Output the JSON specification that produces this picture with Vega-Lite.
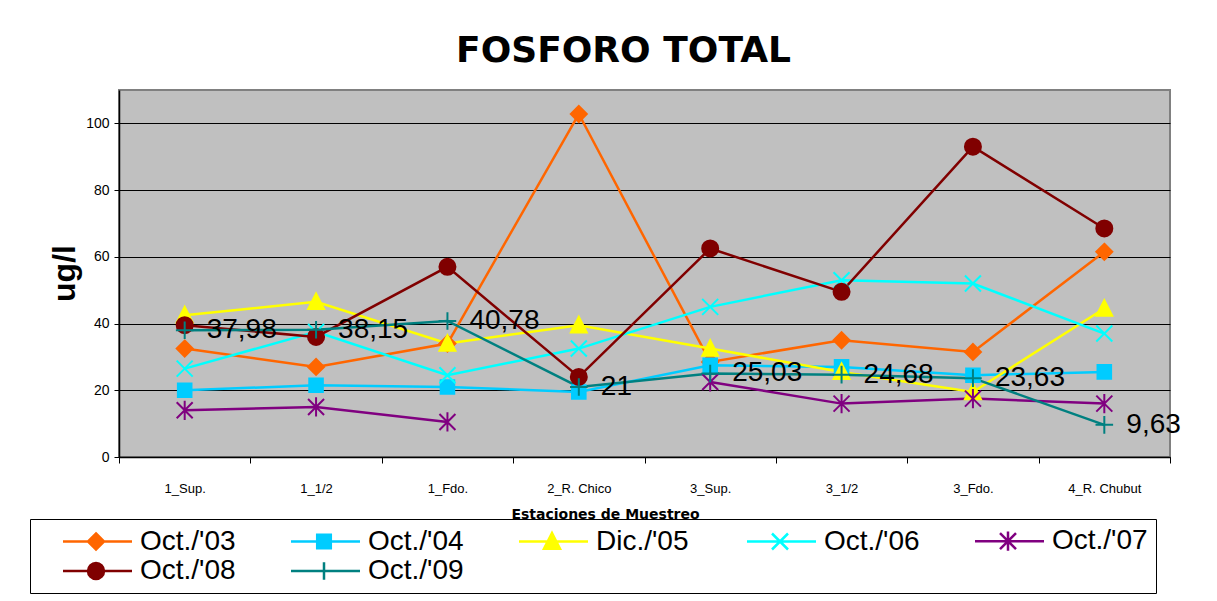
{
  "$schema": "https://vega.github.io/schema/vega-lite/v6.json",
  "autosize": {"type": "none"},
  "width": 1051,
  "height": 367,
  "padding": {"left": 119, "top": 90, "right": 47, "bottom": 144},
  "background": "white",
  "title": {
    "text": "FOSFORO TOTAL",
    "font": "DejaVu Sans",
    "fontSize": 36,
    "fontWeight": "bold",
    "anchor": "middle",
    "frame": "group",
    "offset": 20,
    "dx": -21,
    "color": "black"
  },
  "data": {
    "values": [
      {"station": "1_Sup.", "series": "Oct./'03", "value": 32.5},
      {"station": "1_1/2", "series": "Oct./'03", "value": 27},
      {"station": "1_Fdo.", "series": "Oct./'03", "value": 34},
      {"station": "2_R. Chico", "series": "Oct./'03", "value": 102.8},
      {"station": "3_Sup.", "series": "Oct./'03", "value": 28.5},
      {"station": "3_1/2", "series": "Oct./'03", "value": 35},
      {"station": "3_Fdo.", "series": "Oct./'03", "value": 31.5},
      {"station": "4_R. Chubut", "series": "Oct./'03", "value": 61.5},
      {"station": "1_Sup.", "series": "Oct./'04", "value": 20},
      {"station": "1_1/2", "series": "Oct./'04", "value": 21.5},
      {"station": "1_Fdo.", "series": "Oct./'04", "value": 21},
      {"station": "2_R. Chico", "series": "Oct./'04", "value": 19.5},
      {"station": "3_Sup.", "series": "Oct./'04", "value": 27.5},
      {"station": "3_1/2", "series": "Oct./'04", "value": 27},
      {"station": "3_Fdo.", "series": "Oct./'04", "value": 24.5},
      {"station": "4_R. Chubut", "series": "Oct./'04", "value": 25.5},
      {"station": "1_Sup.", "series": "Dic./'05", "value": 42.5},
      {"station": "1_1/2", "series": "Dic./'05", "value": 46.5},
      {"station": "1_Fdo.", "series": "Dic./'05", "value": 34},
      {"station": "2_R. Chico", "series": "Dic./'05", "value": 39.5},
      {"station": "3_Sup.", "series": "Dic./'05", "value": 32.5},
      {"station": "3_1/2", "series": "Dic./'05", "value": 25.5},
      {"station": "3_Fdo.", "series": "Dic./'05", "value": 19.5},
      {"station": "4_R. Chubut", "series": "Dic./'05", "value": 44.5},
      {"station": "1_Sup.", "series": "Oct./'06", "value": 26.5},
      {"station": "1_1/2", "series": "Oct./'06", "value": 37.5},
      {"station": "1_Fdo.", "series": "Oct./'06", "value": 24.5},
      {"station": "2_R. Chico", "series": "Oct./'06", "value": 32.5},
      {"station": "3_Sup.", "series": "Oct./'06", "value": 45},
      {"station": "3_1/2", "series": "Oct./'06", "value": 53},
      {"station": "3_Fdo.", "series": "Oct./'06", "value": 52},
      {"station": "4_R. Chubut", "series": "Oct./'06", "value": 37},
      {"station": "1_Sup.", "series": "Oct./'07", "value": 14},
      {"station": "1_1/2", "series": "Oct./'07", "value": 15},
      {"station": "1_Fdo.", "series": "Oct./'07", "value": 10.5},
      {"station": "2_R. Chico", "series": "Oct./'07", "value": null},
      {"station": "3_Sup.", "series": "Oct./'07", "value": 22.5},
      {"station": "3_1/2", "series": "Oct./'07", "value": 16},
      {"station": "3_Fdo.", "series": "Oct./'07", "value": 17.5},
      {"station": "4_R. Chubut", "series": "Oct./'07", "value": 16},
      {"station": "1_Sup.", "series": "Oct./'08", "value": 39.5},
      {"station": "1_1/2", "series": "Oct./'08", "value": 36},
      {"station": "1_Fdo.", "series": "Oct./'08", "value": 57},
      {"station": "2_R. Chico", "series": "Oct./'08", "value": 24},
      {"station": "3_Sup.", "series": "Oct./'08", "value": 62.5},
      {"station": "3_1/2", "series": "Oct./'08", "value": 49.5},
      {"station": "3_Fdo.", "series": "Oct./'08", "value": 93},
      {"station": "4_R. Chubut", "series": "Oct./'08", "value": 68.5},
      {"station": "1_Sup.", "series": "Oct./'09", "value": 37.98},
      {"station": "1_1/2", "series": "Oct./'09", "value": 38.15},
      {"station": "1_Fdo.", "series": "Oct./'09", "value": 40.78},
      {"station": "2_R. Chico", "series": "Oct./'09", "value": 21},
      {"station": "3_Sup.", "series": "Oct./'09", "value": 25.03},
      {"station": "3_1/2", "series": "Oct./'09", "value": 24.68},
      {"station": "3_Fdo.", "series": "Oct./'09", "value": 23.63},
      {"station": "4_R. Chubut", "series": "Oct./'09", "value": 9.63}
    ]
  },
  "encoding": {
    "x": {
      "field": "station",
      "type": "nominal",
      "sort": ["1_Sup.", "1_1/2", "1_Fdo.", "2_R. Chico", "3_Sup.", "3_1/2", "3_Fdo.", "4_R. Chubut"],
      "scale": {"type": "band", "paddingInner": 0, "paddingOuter": 0},
      "axis": {
        "labelAngle": 0,
        "tickBand": "extent",
        "tickSize": 6,
        "tickColor": "black",
        "domainColor": "black",
        "domainWidth": 1.5,
        "labelFont": "Liberation Sans",
        "labelFontSize": 13,
        "labelPadding": 19,
        "labelColor": "black",
        "grid": false,
        "title": "Estaciones de Muestreo",
        "titleFont": "DejaVu Sans",
        "titleFontSize": 14,
        "titleFontWeight": "bold",
        "titleColor": "black",
        "titleX": 486,
        "titleY": 57,
        "titleBaseline": "middle"
      }
    },
    "y": {
      "field": "value",
      "type": "quantitative",
      "scale": {"domain": [0, 110], "nice": false},
      "axis": {
        "values": [0, 20, 40, 60, 80, 100],
        "grid": true,
        "gridColor": "black",
        "gridWidth": 1,
        "gridOpacity": 1,
        "domainColor": "black",
        "domainWidth": 1.5,
        "tickColor": "black",
        "tickSize": 5,
        "labelFont": "Liberation Sans",
        "labelFontSize": 14,
        "labelPadding": 5,
        "labelColor": "black",
        "title": "ug/l",
        "titleFont": "Liberation Sans",
        "titleFontSize": 32,
        "titleFontWeight": "bold",
        "titleColor": "black",
        "titleX": -45,
        "titleY": 183,
        "titleAngle": -90,
        "titleBaseline": "alphabetic"
      }
    }
  },
  "layer": [
    {
      "mark": {"type": "line", "strokeWidth": 2.5},
      "encoding": {
        "color": {
          "field": "series",
          "type": "nominal",
          "scale": {
            "domain": ["Oct./'03", "Oct./'04", "Dic./'05", "Oct./'06", "Oct./'07", "Oct./'08", "Oct./'09"],
            "range": ["#FF6600", "#00CCFF", "#FFFF00", "#00FFFF", "#800080", "#800000", "#008080"]
          },
          "legend": null
        }
      }
    },
    {
      "mark": {"type": "point", "size": 256, "strokeWidth": 2, "opacity": 1},
      "encoding": {
        "fill": {
          "field": "series",
          "type": "nominal",
          "scale": {
            "domain": ["Oct./'03", "Oct./'04", "Dic./'05", "Oct./'06", "Oct./'07", "Oct./'08", "Oct./'09"],
            "range": ["#FF6600", "#00CCFF", "#FFFF00", "#00FFFF", "#800080", "#800000", "#008080"]
          },
          "legend": null
        },
        "stroke": {
          "field": "series",
          "type": "nominal",
          "scale": {
            "domain": ["Oct./'03", "Oct./'04", "Dic./'05", "Oct./'06", "Oct./'07", "Oct./'08", "Oct./'09"],
            "range": ["#FF6600", "#00CCFF", "#FFFF00", "#00FFFF", "#800080", "#800000", "#008080"]
          },
          "legend": null
        },
        "shape": {
          "field": "series",
          "type": "nominal",
          "scale": {
            "domain": ["Oct./'03", "Oct./'04", "Dic./'05", "Oct./'06", "Oct./'07", "Oct./'08", "Oct./'09"],
            "range": [
              "M0,-1L1,0L0,1L-1,0Z",
              "M-0.85,-0.85H0.85V0.85H-0.85Z",
              "M0,-1.05L1,0.9H-1Z",
              "M-1,-1L1,1M1,-1L-1,1",
              "M-1,-1L1,1M1,-1L-1,1M0,-1.2V1.2",
              "circle",
              "M-1.1,0H1.1M0,-1.1V1.1"
            ]
          },
          "legend": null
        }
      }
    },
    {
      "mark": {"type": "point", "size": 256, "strokeWidth": 2.5, "opacity": 0},
      "encoding": {
        "fill": {
          "field": "series",
          "type": "nominal",
          "scale": {
            "domain": ["Oct./'03", "Oct./'04", "Dic./'05", "Oct./'06", "Oct./'07", "Oct./'08", "Oct./'09"],
            "range": ["#FF6600", "#00CCFF", "#FFFF00", "#00FFFF", "#800080", "#800000", "#008080"]
          }
        },
        "stroke": {
          "field": "series",
          "type": "nominal",
          "scale": {
            "domain": ["Oct./'03", "Oct./'04", "Dic./'05", "Oct./'06", "Oct./'07", "Oct./'08", "Oct./'09"],
            "range": ["#FF6600", "#00CCFF", "#FFFF00", "#00FFFF", "#800080", "#800000", "#008080"]
          }
        },
        "shape": {
          "field": "series",
          "type": "nominal",
          "scale": {
            "domain": ["Oct./'03", "Oct./'04", "Dic./'05", "Oct./'06", "Oct./'07", "Oct./'08", "Oct./'09"],
            "range": [
              "M-1.75,0H6.875M2.375,-1L3.375,0L2.375,1L1.375,0Z",
              "M-1.75,0H6.875M1.525,-0.85H3.225V0.85H1.525Z",
              "M-1.75,0H6.875M2.375,-1.05L3.375,0.9H1.375Z",
              "M-1.75,0H6.875M1.375,-1L3.375,1M3.375,-1L1.375,1",
              "M-1.75,0H6.875M1.375,-1L3.375,1M3.375,-1L1.375,1M2.375,-1.2V1.2",
              "M-1.75,0H6.875M1.375,0A1,1 0 1,1 3.375,0A1,1 0 1,1 1.375,0",
              "M-1.75,0H6.875M1.275,0H3.475M2.375,-1.1V1.1"
            ]
          },
          "legend": {
            "title": " ",
            "titleOrient": "left",
            "titleFontSize": 10,
            "titlePadding": 25,
            "orient": "none",
            "legendX": -89,
            "legendY": 429,
            "direction": "horizontal",
            "columns": 5,
            "gridAlign": "all",
            "symbolSize": 256,
            "symbolStrokeWidth": 2.5,
            "symbolOpacity": 1,
            "labelFont": "Liberation Sans",
            "labelFontSize": 28,
            "labelColor": "black",
            "labelOffset": 49,
            "labelLimit": 250,
            "padding": 8,
            "rowPadding": 1,
            "columnPadding": 50,
            "strokeColor": "black",
            "fillColor": "white"
          }
        }
      }
    },
    {
      "transform": [{"filter": "datum.series === \"Oct./'09\""}],
      "mark": {"type": "text", "align": "left", "baseline": "middle", "dx": 22, "fontSize": 28, "font": "Liberation Sans", "color": "black"},
      "encoding": {
        "text": {"field": "value", "type": "quantitative", "format": ".2~f"}
      }
    }
  ],
  "resolve": {
    "scale": {"shape": "independent", "fill": "independent", "stroke": "independent"},
    "legend": {"shape": "independent", "fill": "independent", "stroke": "independent"}
  },
  "config": {
    "view": {"fill": "#C0C0C0", "stroke": "#808080", "strokeWidth": 2},
    "locale": {"number": {"decimal": ",", "thousands": ".", "grouping": [3], "currency": ["$", ""]}}
  }
}
